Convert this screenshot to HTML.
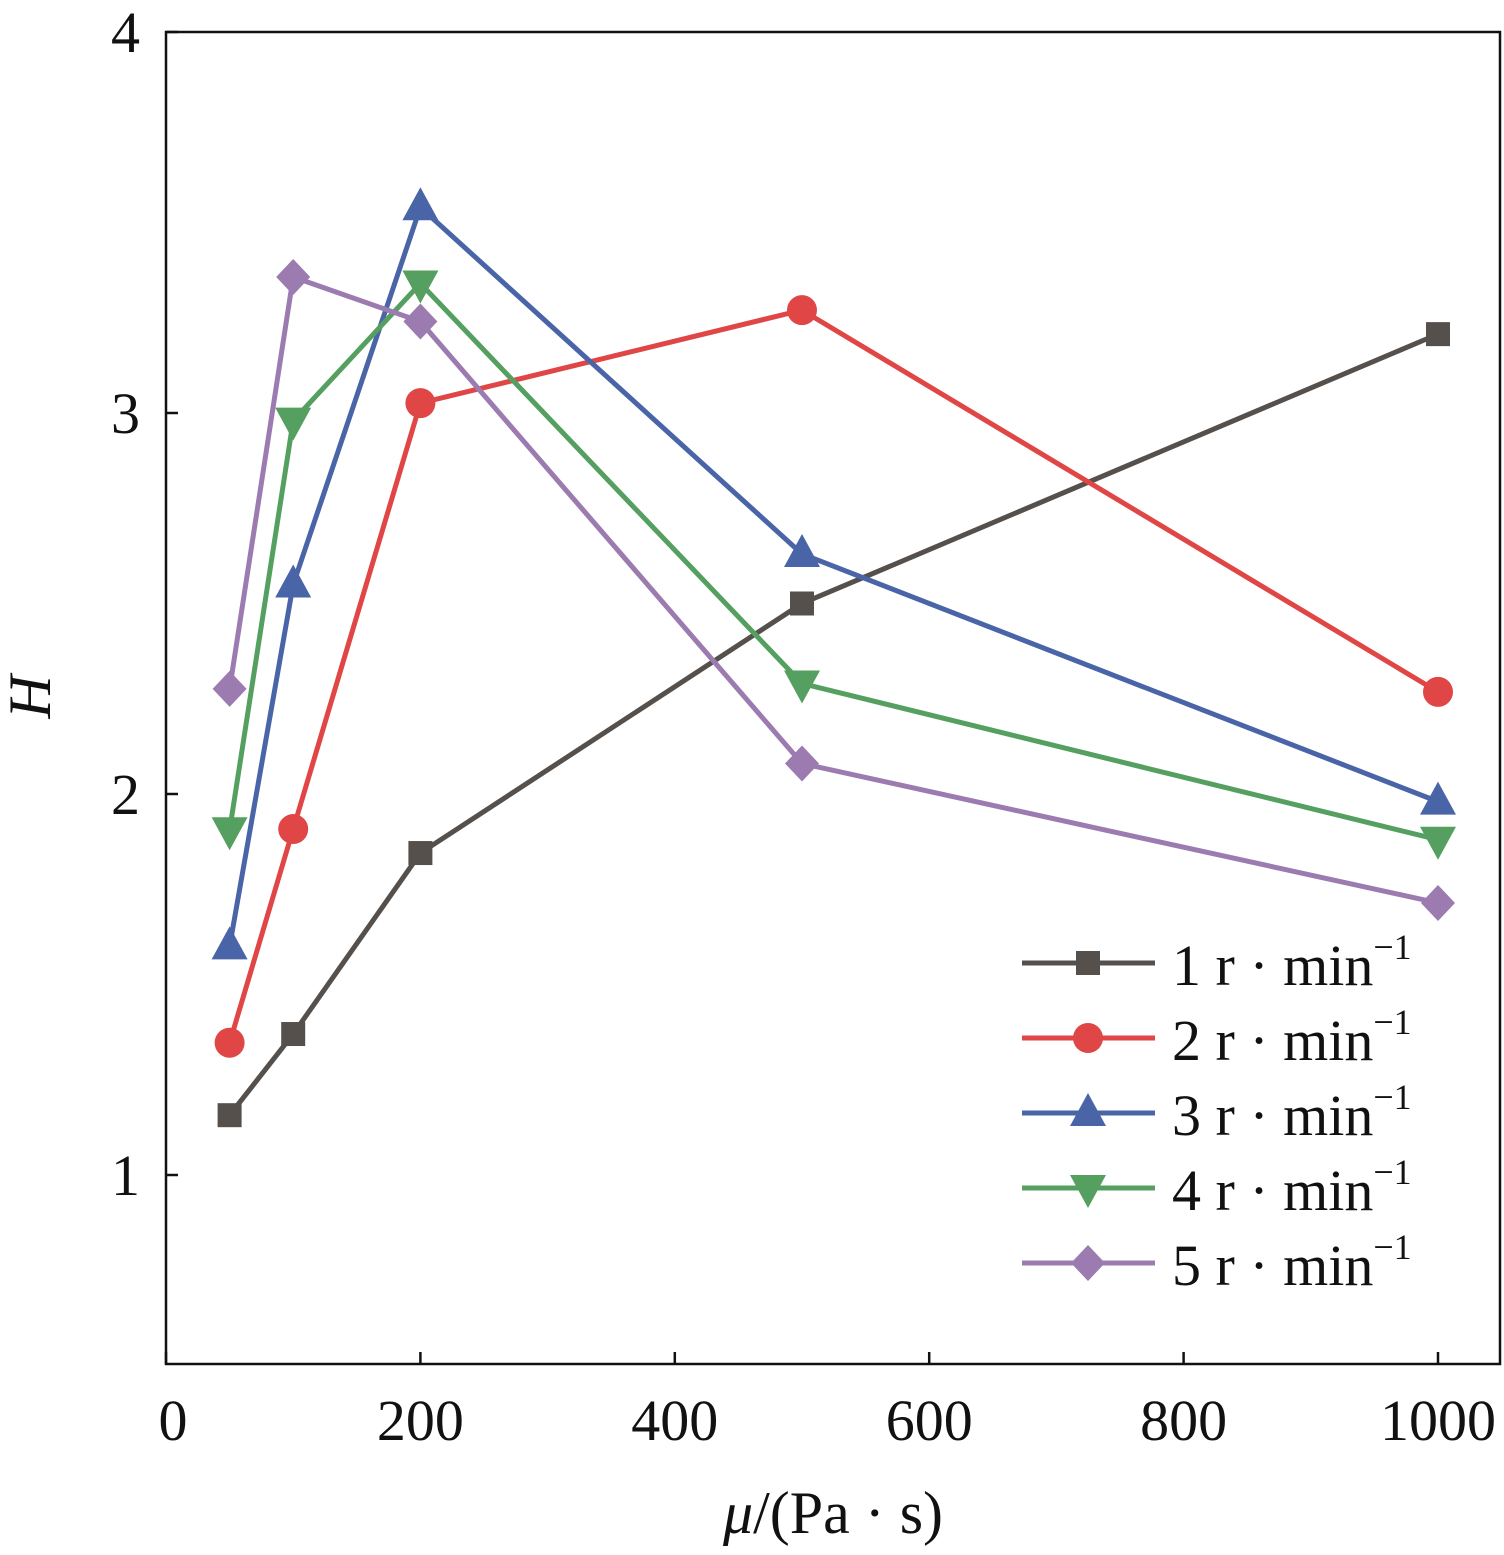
<!DOCTYPE html>
<html><head><meta charset="utf-8"><style>
body{margin:0;background:#fff}
svg text{font-family:"Liberation Serif",serif;fill:#111}
</style></head><body>
<svg id="chart" width="1504" height="1550" xmlns="http://www.w3.org/2000/svg"></svg>
<script>
const xValues=[50,100,200,500,1000];
const s1=[1.157,1.37,1.845,2.50,3.207];
const s2=[1.347,1.908,3.026,3.27,2.268];
const s3=[1.60,2.55,3.54,2.63,1.98];
const s4=[1.905,2.98,3.34,2.29,1.88];
const s5=[2.276,3.357,3.24,2.08,1.714];
const seriesNames=["1 r · min","2 r · min","3 r · min","4 r · min","5 r · min"];
const xTicks=[0,200,400,600,800,1000];
const yTicks=[1,2,3,4];

const svg=document.getElementById('chart');
const NS='http://www.w3.org/2000/svg';
const L=166,R=1500,T=32,B=1364;
const X=v=>166+v*1.272;
const Y=v=>32+(4-v)*381;
function mk(tag,attrs,parent){const e=document.createElementNS(NS,tag);for(const k in attrs)e.setAttribute(k,attrs[k]);(parent||svg).appendChild(e);return e;}

const frame=mk('rect',{x:L,y:T,width:R-L,height:B-T,fill:'none',stroke:'#111','stroke-width':2.5});


xTicks.forEach(v=>{
  const t=mk('line',{x1:X(v),x2:X(v),y1:B,y2:B-12,stroke:'#111','stroke-width':2.5});
  
  
  const l=mk('text',{x:X(v)+(v===0?7:0),y:1440,'text-anchor':'middle','font-size':58});
  l.textContent=v;
  
  
});
yTicks.forEach(v=>{
  const t=mk('line',{x1:L,x2:L+12,y1:Y(v),y2:Y(v),stroke:'#111','stroke-width':2.5});
  
  
  const l=mk('text',{x:140,y:Y(v)+20,'text-anchor':'end','font-size':58});
  l.textContent=v;
  
  
});
const yl=mk('text',{x:50,y:697,'text-anchor':'middle','font-size':60,'font-style':'italic',transform:'rotate(-90 50 697)'});
yl.textContent='H';


const xl=mk('text',{x:833,y:1533,'text-anchor':'middle','font-size':60});
xl.innerHTML='<tspan font-style="italic">μ</tspan>/(Pa · s)';



const colors=['#56504c','#e04646','#4a64a8','#55a060','#9b7bb0'];
const shapes=['square','circle','up','down','diamond'];
function marker(g,shape,x,y,c){
  let e;
  if(shape==='square')e=mk('rect',{x:x-12,y:y-12,width:24,height:24,fill:c},g);
  else if(shape==='circle')e=mk('circle',{cx:x,cy:y,r:15,fill:c},g);
  else if(shape==='up')e=mk('polygon',{points:`${x},${y-20} ${x-18},${y+13} ${x+18},${y+13}`,fill:c},g);
  else if(shape==='down')e=mk('polygon',{points:`${x},${y+20} ${x-18},${y-13} ${x+18},${y-13}`,fill:c},g);
  else e=mk('polygon',{points:`${x},${y-18} ${x+17},${y} ${x},${y+18} ${x-17},${y}`,fill:c},g);
  
  
}
[s1,s2,s3,s4,s5].forEach((s,i)=>{
  const g=mk('g',{});
  
  
  const pl=mk('polyline',{points:s.map((v,j)=>X(xValues[j])+','+Y(v)).join(' '),fill:'none',stroke:colors[i],'stroke-width':5},g);
  
  
  s.forEach((v,j)=>marker(g,shapes[i],X(xValues[j]),Y(v),colors[i]));
  const ly=963+i*75;
  const lg=mk('g',{},svg);
  
  
  mk('line',{x1:1022,x2:1155,y1:ly,y2:ly,stroke:colors[i],'stroke-width':5},lg);
  marker(lg,shapes[i],1088,ly,colors[i]);
  const t=mk('text',{x:1172,y:ly+22,'font-size':58},lg);
  t.innerHTML=seriesNames[i]+'<tspan font-size="36" dy="-26">−1</tspan>';
});
</script>
</body></html>
